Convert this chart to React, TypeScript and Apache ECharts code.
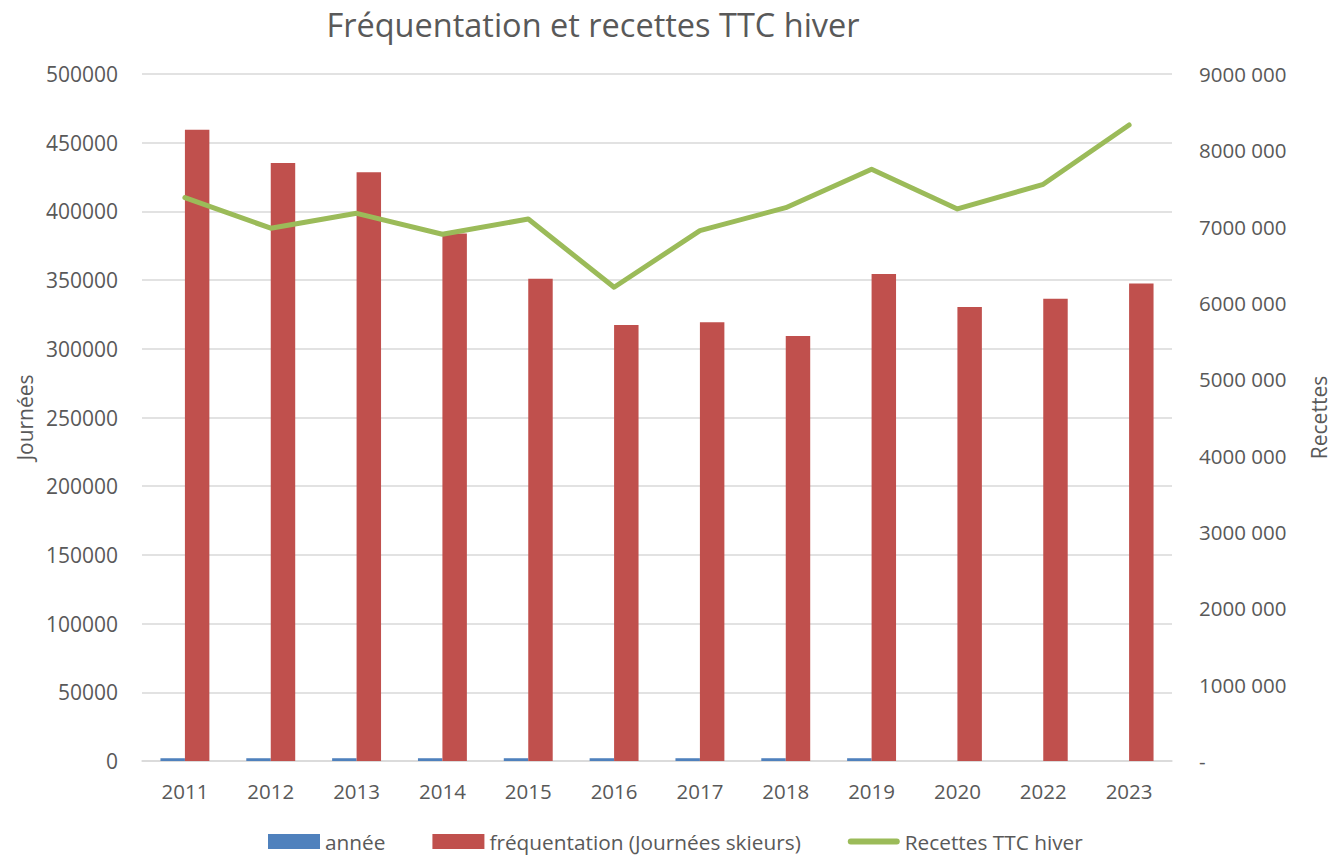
import React, { useEffect, useRef } from "react";
import * as echarts from "echarts";

const years = ["2011", "2012", "2013", "2014", "2015", "2016", "2017", "2018", "2019", "2020", "2022", "2023"];
const annee = [2011, 2012, 2013, 2014, 2015, 2016, 2017, 2018, 2019, null, null, null];
const frequentation = [459500, 435300, 428500, 384000, 351000, 317300, 319400, 309400, 354500, 330500, 336400, 347500];
const recettes = [7380000, 6980000, 7175000, 6900000, 7100000, 6206000, 6948000, 7249000, 7752000, 7232000, 7555000, 8332000];

const FONT = "'Open Sans', 'Noto Sans', sans-serif";
const GREY = "#595959";

export default function App() {
  const ref = useRef<HTMLDivElement>(null);
  useEffect(() => {
    if (!ref.current) return;
    const chart = echarts.init(ref.current, null, { renderer: "svg" });
    chart.setOption({
      animation: false,
      textStyle: { fontFamily: FONT },
      title: {
        text: "Fréquentation et recettes TTC hiver",
        left: 588,
        textAlign: "center",
        top: 3,
        textStyle: { fontFamily: FONT, fontSize: 32.5, fontWeight: "normal", color: GREY },
      },
      grid: { left: 142, right: 160, top: 74, bottom: 95, outerBoundsMode: "none", containLabel: false },
      legend: {
        top: 826,
        left: 263,
        itemWidth: 52,
        itemHeight: 15,
        itemGap: 47,
        textStyle: { fontFamily: FONT, fontSize: 20.8, color: GREY },
        data: [
          { name: "année", icon: "rect" },
          { name: "fréquentation (Journées skieurs)", icon: "rect" },
          {
            name: "Recettes TTC hiver",
            icon: "path://M3,0 L49,0 A3,3 0 0 1 49,6 L3,6 A3,3 0 0 1 3,0 Z",
          },
        ],
      },
      xAxis: {
        type: "category",
        data: years,
        axisLine: { lineStyle: { color: "#d9d9d9", width: 1.5 } },
        axisTick: { show: false },
        axisLabel: { color: GREY, fontSize: 20.5, fontFamily: FONT, margin: 19 },
      },
      yAxis: [
        {
          type: "value",
          min: 0,
          max: 500000,
          interval: 50000,
          name: "Journées",
          nameLocation: "middle",
          nameGap: 107,
          nameTextStyle: { fontSize: 21, color: GREY, fontFamily: FONT },
          axisLabel: { color: GREY, fontSize: 21, fontFamily: FONT, margin: 24, formatter: (v: number) => String(v) },
          splitLine: { lineStyle: { color: "#d9d9d9", width: 1.5 } },
          axisLine: { show: false },
          axisTick: { show: false },
        },
        {
          type: "value",
          min: 0,
          max: 9000000,
          interval: 1000000,
          name: "Recettes",
          nameLocation: "middle",
          nameGap: 136,
          nameRotate: 90,
          nameTextStyle: { fontSize: 21, color: GREY, fontFamily: FONT },
          axisLabel: {
            color: GREY,
            fontSize: 20.5,
            fontFamily: FONT,
            margin: 27,
            formatter: (v: number) =>
              v === 0 ? "-" : `${Math.floor(v / 1000)} ${String(v % 1000).padStart(3, "0")}`,
          },
          splitLine: { show: false },
          axisLine: { show: false },
          axisTick: { show: false },
        },
      ],
      series: [
        {
          name: "année",
          type: "bar",
          data: annee,
          yAxisIndex: 0,
          barGap: "0%",
          barCategoryGap: "43%",
          itemStyle: { color: "#4f81bd" },
        },
        {
          name: "fréquentation (Journées skieurs)",
          type: "bar",
          data: frequentation,
          yAxisIndex: 0,
          itemStyle: { color: "#c0504d" },
        },
        {
          name: "Recettes TTC hiver",
          type: "line",
          data: recettes,
          yAxisIndex: 1,
          symbol: "none",
          lineStyle: { color: "#9bbb59", width: 5, cap: "round", join: "round" },
          itemStyle: { color: "#9bbb59" },
        },
      ],
    });
    return () => chart.dispose();
  }, []);
  return <div ref={ref} style={{ width: 1332, height: 856, position: "absolute", left: 0, top: 0 }} />;
}
